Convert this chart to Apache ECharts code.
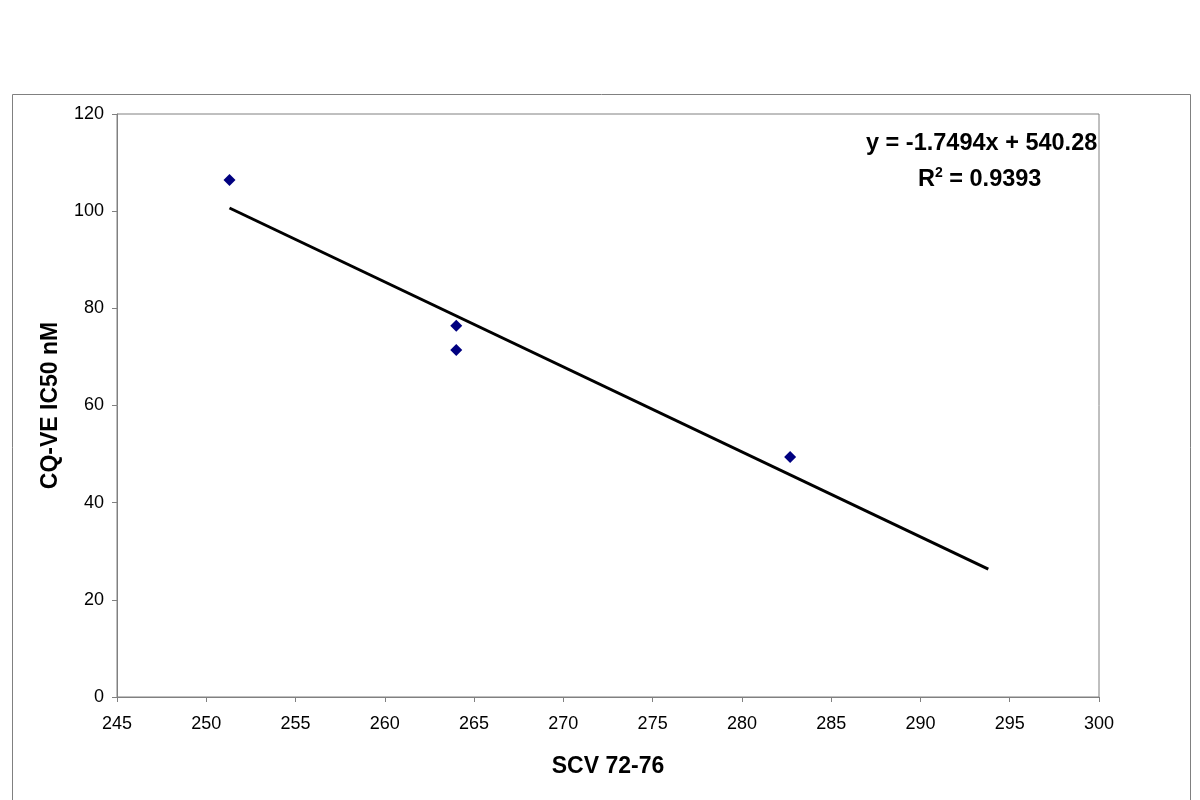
<!DOCTYPE html>
<html>
<head>
<meta charset="utf-8">
<script src="https://cdn.jsdelivr.net/npm/echarts@6/dist/echarts.min.js"></script>
<style>
  html, body { margin: 0; padding: 0; background: #fff; }
  #chart { width: 1200px; height: 800px; }
</style>
</head>
<body>
<div id="chart"></div>
<script>
// data
const scvValues = [251.3, 264.0, 264.0, 282.7];
const ic50Values = [106.4, 76.4, 71.4, 49.4];
// trend line as printed on the chart
const trendSlope = -1.7494;
const trendIntercept = 540.28;
const trendRange = [251.3, 293.8];
const equationText = 'y = -1.7494x + 540.28';
const r2Text = '0.9393';

const points = scvValues.map((x, i) => [x, ic50Values[i]]);
const trendPoints = trendRange.map(x => [x, trendSlope * x + trendIntercept]);

const chart = echarts.init(document.getElementById('chart'));

const option = {
    backgroundColor: '#fff',
    animation: false,
    textStyle: { fontFamily: 'Liberation Sans, Arial, sans-serif' },
    grid: {
        left: 117,
        right: 101,
        top: 114,
        bottom: 103,
        show: true,
        borderColor: '#808080',
        borderWidth: 1,
        containLabel: false
    },
    xAxis: {
        type: 'value',
        min: 245,
        max: 300,
        interval: 5,
        name: 'SCV 72-76',
        nameLocation: 'middle',
        nameGap: 58,
        nameTextStyle: { fontSize: 23, fontWeight: 'bold', color: '#000' },
        axisLine: { show: true, lineStyle: { color: '#808080' } },
        axisTick: { show: true, inside: false, length: 5, lineStyle: { color: '#808080' } },
        axisLabel: { fontSize: 18, color: '#000', margin: 18 },
        splitLine: { show: false }
    },
    yAxis: {
        type: 'value',
        min: 0,
        max: 120,
        interval: 20,
        name: 'CQ-VE IC50 nM',
        nameLocation: 'middle',
        nameGap: 55,
        nameRotate: 90,
        nameTextStyle: { fontSize: 23, fontWeight: 'bold', color: '#000' },
        axisLine: { show: true, lineStyle: { color: '#808080' } },
        axisTick: { show: true, inside: false, length: 5, lineStyle: { color: '#808080' } },
        axisLabel: { fontSize: 18, color: '#000', margin: 13 },
        splitLine: { show: false }
    },
    series: [
        {
            name: 'trend',
            type: 'line',
            data: trendPoints,
            showSymbol: false,
            lineStyle: { color: '#000', width: 3 },
            z: 2
        },
        {
            name: 'IC50',
            type: 'scatter',
            data: points,
            symbol: 'diamond',
            symbolSize: 12,
            itemStyle: { color: '#000080', opacity: 1 },
            z: 3
        }
    ],
    graphic: [
        {
            type: 'rect',
            shape: { x: 12.5, y: 94.5, width: 1178, height: 720 },
            style: { fill: null, stroke: '#808080', lineWidth: 1 },
            z: -1
        },
        {
            type: 'text',
            left: 866,
            top: 132,
            style: {
                text: equationText,
                font: 'bold 23.5px "Liberation Sans", Arial, sans-serif',
                fill: '#000'
            }
        },
        {
            type: 'text',
            left: 918,
            top: 166,
            style: {
                text: 'R{sup|2} = ' + r2Text,
                font: 'bold 23.5px "Liberation Sans", Arial, sans-serif',
                fill: '#000',
                rich: {
                    sup: {
                        fontSize: 14,
                        fontWeight: 'bold',
                        fontFamily: 'Liberation Sans',
                        verticalAlign: 'top',
                        padding: [0, 0, 14, 0]
                    }
                }
            }
        }
    ]
};

chart.setOption(option);
</script>
</body>
</html>
